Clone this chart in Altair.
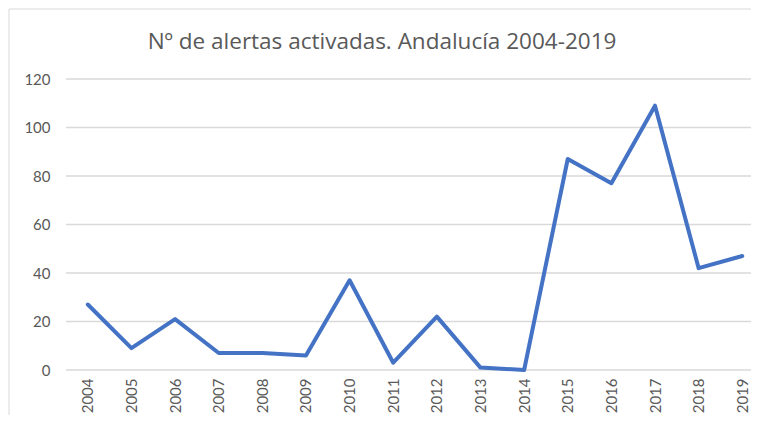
import altair as alt
import pandas as pd

years = list(range(2004, 2020))
alerts = [27, 9, 21, 7, 7, 6, 37, 3, 22, 1, 0, 87, 77, 109, 42, 47]
y_ticks = [0, 20, 40, 60, 80, 100, 120]
title_text = "Nº de alertas activadas. Andalucía 2004-2019"

df = pd.DataFrame({"year": years, "alerts": alerts})
ticks_df = pd.DataFrame({"alerts": y_ticks})

FONT = "Lato"
GRAY = "#595959"
W = 685

x_enc = alt.X("year:Q", scale=alt.Scale(domain=[2003.5, 2019.2], nice=False, zero=False),
              axis=alt.Axis(values=years, format="d", labelAngle=-90, labelAlign="right",
                            labelBaseline="middle", labelPadding=8, grid=False, ticks=False,
                            domain=False, labelColor=GRAY, labelFontSize=15, labelFont=FONT,
                            title=None, zindex=1))
y_scale = alt.Scale(domain=[0, 120], nice=False)

line = alt.Chart(df).mark_line(
    color="#4472C4", strokeWidth=4, strokeCap="round", strokeJoin="round"
).encode(
    x=x_enc,
    y=alt.Y("alerts:Q", scale=y_scale,
            axis=alt.Axis(values=y_ticks, grid=False, ticks=False, domain=False,
                          labelColor=GRAY, labelFontSize=15, labelFont=FONT,
                          labelPadding=16, title=None, zindex=1)),
)

grid = alt.Chart(ticks_df).mark_rule(color="#d9d9d9", strokeWidth=1.3).encode(
    y=alt.Y("alerts:Q", scale=y_scale), x=alt.value(0), x2=alt.value(W)
)

frame = alt.Chart(pd.DataFrame({"f": [0]})).mark_rect(
    fill="white", stroke="#d9d9d9", strokeWidth=1
).encode(
    x=alt.value(-57), x2=alt.value(760), y=alt.value(-70), y2=alt.value(460)
)
title = alt.Chart(pd.DataFrame({"t": [title_text]})).mark_text(
    font="Open Sans", fontSize=22.5, color=GRAY, align="center", baseline="middle"
).encode(text="t:N", x=alt.value(316), y=alt.value(-37))

chart = alt.layer(frame, grid, line, title).properties(
    width=W, height=291,
    autosize=alt.AutoSizeParams(type="none"),
    padding={"left": 58, "top": 71, "right": 0, "bottom": 45},
).configure_view(strokeWidth=0).configure(background="white")

chart.save("out.html", embed_options={"renderer": "svg", "actions": False})
